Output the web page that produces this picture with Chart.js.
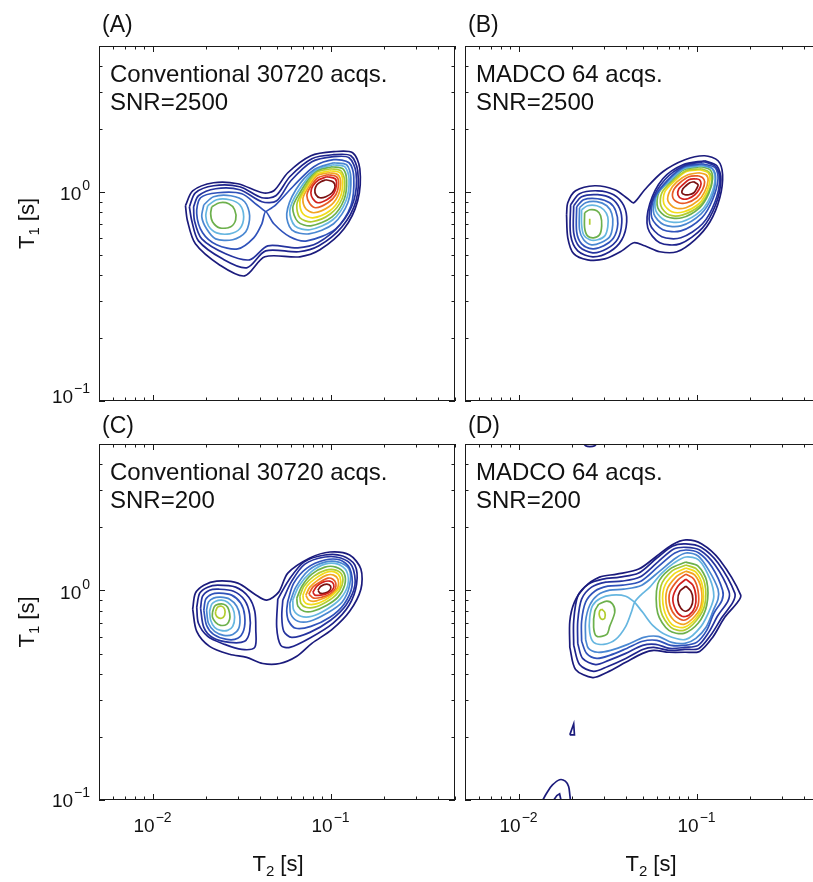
<!DOCTYPE html>
<html>
<head>
<meta charset="utf-8">
<script src="https://cdn.jsdelivr.net/npm/chart.js@4.4.1/dist/chart.umd.min.js"></script>
<style>
  html, body { margin: 0; padding: 0; background: #fff; }
  #wrap { position: relative; width: 813px; height: 882px; overflow: hidden; background: #fff; }
  #wrap canvas { position: absolute; left: 0; top: 0; }
</style>
</head>
<body>
<div id="wrap">
  <canvas id="chartA" width="830" height="882"></canvas>
  <canvas id="chartB" width="830" height="882"></canvas>
  <canvas id="chartC" width="830" height="882"></canvas>
  <canvas id="chartD" width="830" height="882"></canvas>
</div>
<script>
// T1-T2 correlation maps, 4 panels of contour lines (T2 [s], T1 [s])

// contour level colours (lowest -> highest, jet-like)
const levelColors = ['#1b1b7c', '#1e238c', '#25339e', '#2f52ba', '#4a88d2', '#66b6e0', '#6cb04c',
                     '#b2cd2e', '#f2dc1a', '#f2a421', '#e85a26', '#d2201e', '#7a1212'];

const panelLetters = ['(A)', '(B)', '(C)', '(D)'];
const panelNotes = [
  ['Conventional 30720 acqs.', 'SNR=2500'],
  ['MADCO 64 acqs.', 'SNR=2500'],
  ['Conventional 30720 acqs.', 'SNR=200'],
  ['MADCO 64 acqs.', 'SNR=200']
];

// axis ticks
const xTickValues = [0.006, 0.007, 0.008, 0.009, 0.01, 0.02, 0.03, 0.04, 0.05, 0.06, 0.07, 0.08, 0.09, 0.1, 0.2, 0.3, 0.4, 0.5];
const xMajorTicks = [0.01, 0.1];
const yTickValues = [0.1, 0.2, 0.3, 0.4, 0.5, 0.6, 0.7, 0.8, 0.9, 1, 2, 3, 4, 5];
const yMajorTicks = [0.1, 1];
const xLabelValues = [0.01, 0.1];
const xLabelExps = ['\u22122', '\u22121'];
const yLabelValues = [1, 0.1];
const yLabelExps = ['0', '\u22121'];

// contours: [level, [[T2, T1], ...], closed]
const contoursA = [
  [1, [[.0153,.860],[.0168,1.014],[.0220,1.108],[.0301,1.096],[.0416,.992],[.0480,1.014],[.0575,1.237],[.0775,1.492],[.104,1.560],[.133,1.543],[.146,1.293],[.142,.909],[.119,.667],[.0871,.529],[.0672,.490],[.0427,.490],[.0329,.397],[.0238,.448],[.0174,.565],[.0157,.729]]],
  [2, [[.0161,.850],[.0174,.992],[.0220,1.072],[.0309,1.060],[.0411,.939],[.0492,.960],[.0590,1.184],[.0785,1.444],[.104,1.509],[.130,1.492],[.142,1.265],[.139,.909],[.116,.682],[.0860,.553],[.0663,.518],[.0432,.523],[.0338,.434],[.0247,.479],[.0181,.584],[.0166,.729]]],
  [3, [[.0170,.850],[.0181,.960],[.0226,1.037],[.0309,1.026],[.0411,.899],[.0498,.909],[.0598,1.132],[.0785,1.397],[.104,1.476],[.127,1.460],[.139,1.237],[.135,.909],[.113,.697],[.0849,.572],[.0655,.541],[.0444,.553],[.0351,.474],[.0257,.507],[.0189,.597],[.0172,.729]]],
  [4, [[.0432,.805],[.0385,.869],[.0317,.982],[.0232,.992],[.0186,.939],[.0177,.787],[.0191,.638],[.0229,.559],[.0301,.535],[.0370,.604],[.0411,.705],[.0432,.805],[.0480,.705],[.0590,.611],[.0736,.584],[.107,.667],[.130,.860],[.135,1.184],[.127,1.381],[.104,1.428],[.0806,1.322],[.0621,1.072],[.0492,.869]]],
  [5, [[.0194,.869],[.0220,.950],[.0275,.960],[.0329,.899],[.0351,.770],[.0334,.645],[.0282,.591],[.0226,.597],[.0201,.667],[.0189,.761]]],
  [6, [[.0204,.860],[.0229,.919],[.0271,.919],[.0309,.869],[.0325,.761],[.0309,.667],[.0271,.631],[.0229,.638],[.0206,.689],[.0199,.770]]],
  [7, [[.0215,.850],[.0238,.889],[.0268,.879],[.0289,.823],[.0293,.737],[.0275,.682],[.0238,.674],[.0217,.721],[.0212,.787]]],
  [5, [[.104,1.381],[.123,1.351],[.130,1.171],[.125,.889],[.104,.705],[.0755,.631],[.0605,.660],[.0567,.787],[.0638,1.026],[.0806,1.279]]],
  [6, [[.103,1.351],[.120,1.322],[.127,1.158],[.122,.909],[.103,.737],[.0765,.660],[.0630,.689],[.0590,.814],[.0655,1.003],[.0816,1.265]]],
  [7, [[.102,1.322],[.117,1.293],[.123,1.145],[.119,.919],[.102,.761],[.0775,.689],[.0655,.721],[.0613,.841],[.0672,.992],[.0816,1.251]]],
  [8, [[.100,1.293],[.114,1.265],[.120,1.132],[.116,.929],[.100,.787],[.0785,.721],[.0672,.753],[.0646,.869],[.0690,.992],[.0827,1.237]]],
  [9, [[.0991,1.265],[.113,1.237],[.117,1.120],[.113,.939],[.0991,.814],[.0795,.753],[.0699,.787],[.0672,.899],[.0708,1.003],[.0827,1.210]]],
  [10, [[.0978,1.237],[.110,1.210],[.114,1.108],[.110,.960],[.0978,.850],[.0806,.796],[.0726,.832],[.0699,.929],[.0736,1.026],[.0838,1.197]]],
  [11, [[.0966,1.210],[.108,1.184],[.111,1.096],[.107,.971],[.0966,.889],[.0827,.841],[.0765,.879],[.0736,.960],[.0765,1.048],[.0849,1.171]]],
  [12, [[.0953,1.184],[.106,1.158],[.108,1.084],[.104,.982],[.0953,.919],[.0849,.889],[.0795,.929],[.0775,.992],[.0795,1.072],[.0860,1.145]]],
  [13, [[.0941,1.145],[.103,1.120],[.106,1.060],[.102,.992],[.0941,.950],[.0871,.939],[.0827,.971],[.0816,1.026],[.0838,1.084],[.0882,1.120]]]
];

const contoursB = [
  [1, [[.0186,.778],[.0189,.889],[.0209,1.014],[.0268,1.072],[.0347,1.026],[.0411,.929],[.0444,.889],[.0511,1.026],[.0646,1.251],[.0860,1.428],[.111,1.492],[.132,1.412],[.140,1.210],[.135,.939],[.119,.721],[.0978,.591],[.0775,.518],[.0621,.518],[.0511,.553],[.0444,.572],[.0380,.523],[.0305,.479],[.0244,.474],[.0204,.507],[.0189,.604]]],
  [2, [[.0196,.869],[.0220,.982],[.0278,1.014],[.0342,.971],[.0390,.860],[.0405,.721],[.0380,.591],[.0325,.518],[.0261,.490],[.0215,.523],[.0196,.624]]],
  [3, [[.0204,.860],[.0226,.950],[.0278,.971],[.0334,.929],[.0370,.832],[.0380,.713],[.0361,.597],[.0313,.535],[.0261,.512],[.0220,.547],[.0204,.638]]],
  [4, [[.0212,.850],[.0232,.919],[.0278,.929],[.0325,.889],[.0351,.814],[.0361,.705],[.0342,.604],[.0301,.553],[.0261,.535],[.0226,.565],[.0212,.645]]],
  [5, [[.0220,.841],[.0238,.889],[.0275,.899],[.0313,.860],[.0334,.787],[.0338,.697],[.0325,.611],[.0289,.572],[.0257,.559],[.0232,.591],[.0220,.660]]],
  [6, [[.0226,.823],[.0244,.860],[.0275,.860],[.0301,.823],[.0317,.761],[.0317,.682],[.0305,.617],[.0278,.591],[.0251,.591],[.0232,.624],[.0226,.697]]],
  [7, [[.0235,.796],[.0251,.823],[.0275,.814],[.0289,.770],[.0293,.689],[.0285,.624],[.0264,.604],[.0244,.617],[.0235,.674]]],
  [8, [[.0251,.745],[.0251,.697]], false],
  [2, [[.111,1.412],[.130,1.336],[.137,1.145],[.128,.869],[.108,.674],[.0806,.565],[.0621,.572],[.0532,.674],[.0546,.879],[.0646,1.158],[.0838,1.351]]],
  [3, [[.110,1.397],[.128,1.322],[.135,1.158],[.127,.899],[.108,.705],[.0816,.604],[.0638,.611],[.0546,.705],[.0560,.899],[.0663,1.145],[.0849,1.336]]],
  [4, [[.108,1.366],[.127,1.307],[.132,1.158],[.123,.919],[.107,.753],[.0816,.652],[.0646,.660],[.0560,.753],[.0575,.929],[.0681,1.132],[.0849,1.322]]],
  [5, [[.107,1.351],[.123,1.293],[.128,1.158],[.122,.950],[.106,.787],[.0816,.689],[.0655,.697],[.0575,.787],[.0590,.950],[.0690,1.132],[.0849,1.307]]],
  [6, [[.107,1.336],[.122,1.293],[.127,1.158],[.120,.960],[.106,.814],[.0827,.721],[.0672,.729],[.0590,.814],[.0598,.971],[.0708,1.132],[.0849,1.293]]],
  [7, [[.106,1.322],[.119,1.279],[.123,1.158],[.117,.982],[.104,.841],[.0827,.753],[.0681,.761],[.0605,.841],[.0613,.992],[.0717,1.132],[.0849,1.279]]],
  [8, [[.106,1.293],[.117,1.251],[.122,1.145],[.116,.992],[.104,.860],[.0838,.778],[.0699,.778],[.0630,.860],[.0638,.992],[.0736,1.132],[.0871,1.265]]],
  [9, [[.104,1.279],[.116,1.237],[.119,1.145],[.114,1.003],[.103,.879],[.0849,.805],[.0726,.805],[.0655,.879],[.0663,1.003],[.0755,1.132],[.0871,1.251]]],
  [10, [[.103,1.237],[.113,1.210],[.116,1.132],[.111,1.003],[.102,.909],[.0871,.841],[.0755,.841],[.0690,.909],[.0708,1.014],[.0775,1.120],[.0894,1.210]]],
  [11, [[.102,1.197],[.108,1.171],[.111,1.120],[.108,1.026],[.100,.939],[.0882,.889],[.0795,.889],[.0736,.939],[.0745,1.026],[.0806,1.108],[.0905,1.184]]],
  [12, [[.0991,1.158],[.104,1.145],[.106,1.096],[.103,1.026],[.0978,.971],[.0894,.929],[.0827,.929],[.0785,.971],[.0795,1.037],[.0838,1.084],[.0905,1.145]]],
  [13, [[.0966,1.120],[.102,1.084],[.100,1.037],[.0966,.992],[.0905,.971],[.0860,.971],[.0827,.992],[.0838,1.037],[.0871,1.072],[.0917,1.108]]]
];

const contoursC = [
  [1, [[.0168,.814],[.0174,.971],[.0194,1.060],[.0229,1.108],[.0301,1.084],[.0375,.960],[.0438,.899],[.0511,.982],[.0575,1.210],[.0765,1.428],[.0991,1.526],[.128,1.476],[.148,1.265],[.148,1.014],[.128,.796],[.102,.652],[.0785,.559],[.0646,.485],[.0518,.448],[.0416,.448],[.0338,.479],[.0271,.496],[.0209,.541],[.0177,.638]]],
  [2, [[.0177,.832],[.0184,.971],[.0204,1.037],[.0232,1.060],[.0293,1.037],[.0347,.929],[.0375,.796],[.0380,.652],[.0375,.535],[.0317,.523],[.0254,.553],[.0204,.604],[.0181,.697]]],
  [3, [[.0186,.823],[.0191,.939],[.0209,1.003],[.0235,1.014],[.0285,.992],[.0329,.899],[.0351,.770],[.0351,.638],[.0329,.572],[.0271,.565],[.0217,.597],[.0194,.667]]],
  [4, [[.0194,.805],[.0199,.909],[.0215,.960],[.0238,.971],[.0278,.950],[.0313,.869],[.0329,.761],[.0325,.645],[.0301,.591],[.0261,.584],[.0220,.617],[.0201,.682]]],
  [5, [[.0201,.805],[.0206,.879],[.0220,.919],[.0241,.929],[.0271,.909],[.0297,.841],[.0309,.753],[.0305,.660],[.0282,.617],[.0251,.611],[.0223,.638],[.0206,.697]]],
  [6, [[.0209,.796],[.0215,.860],[.0226,.889],[.0244,.899],[.0264,.879],[.0282,.823],[.0289,.745],[.0282,.674],[.0264,.645],[.0241,.645],[.0223,.667],[.0212,.721]]],
  [7, [[.0217,.787],[.0223,.841],[.0235,.860],[.0251,.860],[.0264,.832],[.0271,.778],[.0271,.729],[.0261,.689],[.0241,.682],[.0226,.705],[.0217,.745]]],
  [8, [[.0226,.796],[.0232,.832],[.0244,.841],[.0254,.814],[.0254,.761],[.0244,.737],[.0232,.745],[.0226,.770]]],
  [2, [[.0505,.909],[.0582,1.120],[.0708,1.366],[.0929,1.476],[.117,1.460],[.137,1.322],[.140,1.072],[.127,.850],[.103,.697],[.0775,.597],[.0590,.535],[.0525,.547],[.0498,.667]]],
  [3, [[.0539,.899],[.0605,1.108],[.0717,1.336],[.0929,1.444],[.114,1.428],[.132,1.307],[.137,1.060],[.122,.850],[.100,.721],[.0765,.631],[.0605,.597],[.0546,.638],[.0532,.753]]],
  [4, [[.0575,.889],[.0621,1.084],[.0736,1.279],[.0929,1.397],[.113,1.397],[.128,1.279],[.132,1.048],[.119,.860],[.0991,.745],[.0775,.674],[.0638,.660],[.0582,.713],[.0567,.796]]],
  [5, [[.0590,.869],[.0638,1.037],[.0755,1.251],[.0929,1.366],[.111,1.366],[.127,1.265],[.128,1.060],[.116,.879],[.0953,.778],[.0765,.713],[.0655,.713],[.0598,.770]]],
  [6, [[.0613,.899],[.0663,1.048],[.0775,1.223],[.0929,1.336],[.110,1.336],[.123,1.237],[.125,1.060],[.113,.909],[.0953,.814],[.0785,.753],[.0681,.753],[.0621,.805]]],
  [7, [[.0646,.919],[.0690,1.048],[.0785,1.197],[.0929,1.293],[.107,1.293],[.119,1.210],[.120,1.060],[.110,.929],[.0953,.850],[.0795,.796],[.0708,.796],[.0655,.841]]],
  [8, [[.0672,.939],[.0708,1.048],[.0806,1.171],[.0941,1.251],[.107,1.251],[.116,1.184],[.116,1.060],[.107,.950],[.0941,.879],[.0816,.832],[.0726,.832],[.0681,.869]]],
  [9, [[.0699,.950],[.0736,1.048],[.0827,1.145],[.0953,1.223],[.106,1.223],[.113,1.158],[.113,1.048],[.104,.960],[.0929,.899],[.0816,.860],[.0745,.860],[.0708,.889]]],
  [10, [[.0726,.950],[.0765,1.037],[.0849,1.120],[.0953,1.184],[.104,1.184],[.110,1.132],[.110,1.037],[.102,.960],[.0917,.919],[.0816,.889],[.0755,.899]]],
  [11, [[.0755,.960],[.0795,1.037],[.0871,1.096],[.0966,1.145],[.103,1.132],[.107,1.084],[.106,1.014],[.0991,.960],[.0894,.929],[.0806,.919]]],
  [12, [[.0795,.982],[.0838,1.048],[.0905,1.096],[.0991,1.108],[.104,1.072],[.103,1.014],[.0966,.971],[.0882,.950],[.0816,.950]]],
  [13, [[.0849,1.003],[.0882,1.048],[.0953,1.072],[.100,1.048],[.0991,1.003],[.0929,.971],[.0871,.971]]]
];

const contoursD = [
  [1, [[.0194,.535],[.0194,.713],[.0206,.879],[.0235,1.037],[.0285,1.158],[.0356,1.197],[.0473,1.265],[.0598,1.460],[.0726,1.649],[.0871,1.742],[.107,1.667],[.135,1.397],[.177,.950],[.170,.879],[.144,.745],[.123,.597],[.104,.512],[.0860,.507],[.0699,.507],[.0575,.518],[.0498,.501],[.0400,.454],[.0313,.406],[.0261,.384],[.0209,.420]]],
  [2, [[.0204,.547],[.0204,.713],[.0215,.939],[.0247,1.072],[.0297,1.132],[.0370,1.158],[.0473,1.210],[.0598,1.428],[.0736,1.631],[.0871,1.667],[.106,1.607],[.132,1.351],[.164,.971],[.160,.879],[.139,.745],[.120,.611],[.103,.529],[.0860,.523],[.0699,.518],[.0575,.535],[.0498,.523],[.0400,.474],[.0317,.434],[.0264,.411],[.0220,.443]]],
  [3, [[.0215,.559],[.0215,.713],[.0226,.909],[.0257,1.037],[.0309,1.096],[.0380,1.108],[.0480,1.158],[.0605,1.366],[.0745,1.577],[.0871,1.607],[.104,1.560],[.127,1.322],[.152,.992],[.150,.889],[.132,.761],[.117,.631],[.102,.547],[.0860,.535],[.0708,.529],[.0590,.553],[.0498,.547],[.0400,.501],[.0321,.464],[.0271,.443],[.0229,.474]]],
  [4, [[.0226,.572],[.0226,.713],[.0238,.879],[.0268,.992],[.0317,1.048],[.0385,1.060],[.0486,1.108],[.0613,1.307],[.0755,1.509],[.0871,1.560],[.103,1.509],[.122,1.293],[.140,1.003],[.139,.899],[.125,.778],[.114,.645],[.100,.565],[.0860,.547],[.0717,.547],[.0598,.578],[.0498,.572],[.0405,.529],[.0325,.490],[.0275,.474],[.0241,.501]]],
  [5, [[.0238,.584],[.0238,.713],[.0251,.850],[.0278,.950],[.0325,1.003],[.0390,1.014],[.0492,1.060],[.0621,1.237],[.0765,1.428],[.0871,1.509],[.102,1.460],[.117,1.251],[.132,1.014],[.132,.909],[.125,.814],[.113,.667],[.0991,.591],[.0860,.559],[.0726,.565],[.0605,.604],[.0505,.597],[.0411,.553],[.0329,.518],[.0278,.507],[.0247,.529]]],
  [6, [[.0449,.879],[.0400,.939],[.0334,.950],[.0289,.919],[.0261,.850],[.0251,.745],[.0251,.631],[.0264,.565],[.0301,.553],[.0351,.584],[.0400,.674],[.0432,.796],[.0449,.879],[.0486,.950],[.0546,1.037],[.0638,1.210],[.0745,1.351],[.0871,1.444],[.103,1.397],[.119,1.132],[.125,.939],[.119,.814],[.106,.674],[.0871,.584],[.0681,.611],[.0567,.682],[.0498,.787]]],
  [7, [[.0282,.860],[.0313,.889],[.0338,.860],[.0347,.787],[.0325,.674],[.0313,.617],[.0275,.604],[.0264,.667],[.0268,.796]]],
  [8, [[.0293,.814],[.0305,.787],[.0305,.737],[.0293,.729],[.0285,.753],[.0285,.796]]],
  [7, [[.0871,1.366],[.102,1.307],[.114,1.108],[.114,.850],[.102,.697],[.0849,.624],[.0699,.645],[.0605,.778],[.0605,1.072],[.0708,1.265]]],
  [8, [[.0871,1.322],[.100,1.265],[.111,1.084],[.111,.850],[.100,.721],[.0849,.645],[.0717,.667],[.0630,.796],[.0630,1.048],[.0726,1.237]]],
  [9, [[.0871,1.279],[.0991,1.223],[.108,1.048],[.108,.850],[.0991,.737],[.0849,.667],[.0726,.689],[.0655,.814],[.0655,1.026],[.0745,1.197]]],
  [10, [[.0871,1.237],[.0978,1.184],[.106,1.026],[.106,.850],[.0978,.753],[.0849,.689],[.0745,.721],[.0681,.832],[.0681,1.003],[.0765,1.158]]],
  [11, [[.0871,1.197],[.0966,1.132],[.102,.992],[.102,.850],[.0953,.770],[.0849,.721],[.0765,.753],[.0708,.850],[.0708,.982],[.0785,1.120]]],
  [12, [[.0871,1.132],[.0953,1.060],[.0991,.939],[.0978,.832],[.0905,.761],[.0827,.753],[.0765,.805],[.0736,.919],[.0785,1.048]]],
  [13, [[.0871,1.048],[.0929,.992],[.0953,.909],[.0929,.832],[.0871,.796],[.0816,.823],[.0785,.899],[.0806,.992]]],
  [1, [[.0229,5.1],[.0238,4.91],[.0251,4.86],[.0268,4.91],[.0278,5.1]], false],
  [1, [[.0194,.2046],[.0206,.2046],[.0204,.231]]],
  [1, [[.0135,.098],[.0146,.110],[.0155,.118],[.0170,.125],[.0183,.123],[.0191,.116],[.0194,.106],[.0196,.098]], false],
  [1, [[.0155,.098],[.0164,.105],[.0170,.107],[.0174,.098]], false]
];

const FONT = '"Liberation Sans", Arial, Helvetica, sans-serif';

function drawPower(ctx, exp, x, baseY, align) {
  ctx.font = '19px ' + FONT;
  const wb = ctx.measureText('10').width;
  ctx.font = '14px ' + FONT;
  const we = ctx.measureText(exp).width;
  const total = wb + 1 + we;
  const x0 = align === 'right' ? x - total : x - total / 2;
  ctx.textAlign = 'left';
  ctx.textBaseline = 'alphabetic';
  ctx.font = '19px ' + FONT;
  ctx.fillText('10', x0, baseY);
  ctx.font = '14px ' + FONT;
  ctx.fillText(exp, x0 + wb + 1, baseY - 10);
}

function drawSubTitle(ctx, sub, x, y, rotate) {
  ctx.save();
  ctx.translate(x, y);
  if (rotate) ctx.rotate(-Math.PI / 2);
  ctx.textBaseline = 'alphabetic';
  ctx.textAlign = 'left';
  ctx.font = '22px ' + FONT;
  const wT = ctx.measureText('T').width;
  const wRest = ctx.measureText(' [s]').width;
  ctx.font = '15px ' + FONT;
  const wSub = ctx.measureText(sub).width;
  const x0 = -(wT + wSub + wRest) / 2;
  ctx.font = '22px ' + FONT;
  ctx.fillText('T', x0, 0);
  ctx.fillText(' [s]', x0 + wT + wSub, 0);
  ctx.font = '15px ' + FONT;
  ctx.fillText(sub, x0 + wT, 5);
  ctx.restore();
}

// frame, inward ticks, labels and notes for one panel
const panelDecor = {
  id: 'panelDecor',
  afterDraw(chart, args, o) {
    const { ctx, chartArea: a } = chart;
    const xs = chart.scales.x, ys = chart.scales.y;
    ctx.save();
    ctx.strokeStyle = '#1a1a1a';
    ctx.lineWidth = 1;
    ctx.strokeRect(a.left + 0.5, a.top + 0.5, a.right - a.left - 1, a.bottom - a.top - 1);
    ctx.beginPath();
    xTickValues.forEach(v => {
      const px = Math.round(xs.getPixelForValue(v)) + 0.5;
      const len = xMajorTicks.includes(v) ? 6 : 3.5;
      ctx.moveTo(px, a.bottom); ctx.lineTo(px, a.bottom - len);
      ctx.moveTo(px, a.top); ctx.lineTo(px, a.top + len);
    });
    yTickValues.forEach(v => {
      const py = Math.round(ys.getPixelForValue(v)) + 0.5;
      const len = yMajorTicks.includes(v) ? 6 : 3.5;
      ctx.moveTo(a.left, py); ctx.lineTo(a.left + len, py);
      ctx.moveTo(a.right, py); ctx.lineTo(a.right - len, py);
    });
    ctx.stroke();

    ctx.fillStyle = '#111';
    if (o.yLabels) {
      yLabelValues.forEach((v, i) => {
        drawPower(ctx, yLabelExps[i], a.left - 9, ys.getPixelForValue(v) + o.yLabelDy[i], 'right');
      });
      drawSubTitle(ctx, '1', 34, (a.top + a.bottom) / 2, true);
    }
    if (o.xLabels) {
      xLabelValues.forEach((v, i) => {
        drawPower(ctx, xLabelExps[i], xs.getPixelForValue(v), a.bottom + 32, 'center');
      });
      drawSubTitle(ctx, '2', o.xTitleX, 871, false);
    }
    ctx.textAlign = 'left';
    ctx.textBaseline = 'alphabetic';
    ctx.font = '23px ' + FONT;
    ctx.fillText(o.letter, a.left + 3, a.top - o.letterGap);
    ctx.font = '24px ' + FONT;
    o.notes.forEach((t, i) => ctx.fillText(t, a.left + 11, a.top + 36 + i * 28));
    ctx.restore();
  }
};

function buildDatasets(contours) {
  return contours.map(([level, pts, closed]) => {
    const path = closed === false ? pts : pts.concat([pts[0]]);
    return {
      data: path.map(([t2, t1]) => ({ x: t2, y: t1 })),
      borderColor: levelColors[level - 1],
      borderWidth: 1.7,
      showLine: true,
      pointRadius: 0,
      fill: false,
      tension: pts.length > 4 ? 0.3 : 0
    };
  });
}

const panels = [
  { id: 'chartA', contours: contoursA, pad: { left: 99, top: 46, right: 375, bottom: 481 },
    yLabels: true, xLabels: false, yLabelDy: [8, 2], letterGap: 14 },
  { id: 'chartB', contours: contoursB, pad: { left: 465, top: 46, right: 9, bottom: 481 },
    yLabels: false, xLabels: false, letterGap: 14 },
  { id: 'chartC', contours: contoursC, pad: { left: 99, top: 444, right: 375, bottom: 82 },
    yLabels: true, xLabels: true, yLabelDy: [9, 7], xTitleX: 278, letterGap: 11 },
  { id: 'chartD', contours: contoursD, pad: { left: 465, top: 444, right: 9, bottom: 82 },
    yLabels: false, xLabels: true, xTitleX: 651, letterGap: 11 }
];

panels.forEach((p, i) => {
  new Chart(document.getElementById(p.id), {
    type: 'scatter',
    data: { datasets: buildDatasets(p.contours) },
    options: {
      responsive: false,
      animation: false,
      devicePixelRatio: 1,
      layout: { padding: p.pad },
      scales: {
        x: { type: 'logarithmic', min: 0.005, max: 0.5, display: false },
        y: { type: 'logarithmic', min: 0.1, max: 5, display: false }
      },
      plugins: {
        legend: { display: false },
        tooltip: { enabled: false },
        panelDecor: {
          letter: panelLetters[i],
          notes: panelNotes[i],
          yLabels: p.yLabels,
          xLabels: p.xLabels,
          yLabelDy: p.yLabelDy,
          xTitleX: p.xTitleX,
          letterGap: p.letterGap
        }
      }
    },
    plugins: [panelDecor]
  });
});
</script>
</body>
</html>
